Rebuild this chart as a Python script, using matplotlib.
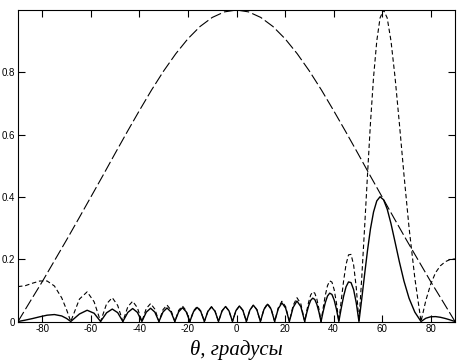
import matplotlib
matplotlib.use("Agg")
import matplotlib.pyplot as plt

# angle samples (degrees) for the array-factor (dotted) and total (solid) curves
theta_af = [
    -90, -87, -84, -81, -78, -75, -72, -70, -68.27,
    -64.69, -61.52, -58.65, -55.99,
    -53.51, -51.17, -48.94, -46.81,
    -44.75, -42.77, -40.84, -38.97,
    -37.16, -35.38, -33.64, -31.94,
    -30.27, -28.62, -27.00, -25.40,
    -23.83, -22.27, -20.73, -19.21,
    -17.70, -16.20, -14.71, -13.24,
    -11.77, -10.31, -8.86, -7.41,
    -5.97, -4.53, -3.10, -1.66,
    -0.23, 1.20, 2.64, 4.07,
    5.51, 6.95, 8.40, 9.85,
    11.30, 12.77, 14.24, 15.72,
    17.22, 18.72, 20.24, 21.78,
    23.33, 24.90, 26.49, 28.10,
    28.91, 29.74, 30.56, 31.40, 32.24, 33.09, 33.95, 34.82,
    35.70, 36.58, 37.48, 38.39, 39.31, 40.24, 41.19, 42.15,
    43.12, 44.11, 45.11, 46.14, 47.18, 48.25, 49.33, 50.44,
    51.58, 52.76, 53.96, 55.18, 56.45, 57.78, 59.13, 60.57,
    62.07, 63.64, 65.30, 67.07, 68.98, 71.08, 73.45, 76.0,
    78, 80, 82, 84, 86, 88, 90,
]

array_factor = [
    0.112, 0.115, 0.123, 0.130, 0.130, 0.114, 0.076, 0.038, 0,
    0.0720, 0.0952, 0.0633, 0,
    0.0568, 0.0764, 0.0516, 0,
    0.0476, 0.0650, 0.0444, 0,
    0.0418, 0.0576, 0.0398, 0,
    0.0381, 0.0529, 0.0367, 0,
    0.0357, 0.0498, 0.0349, 0,
    0.0343, 0.0482, 0.0339, 0,
    0.0337, 0.0476, 0.0337, 0,
    0.0339, 0.0482, 0.0343, 0,
    0.0349, 0.0498, 0.0357, 0,
    0.0367, 0.0529, 0.0381, 0,
    0.0398, 0.0576, 0.0418, 0,
    0.0444, 0.0650, 0.0476, 0,
    0.0516, 0.0764, 0.0567, 0,
    0.0333, 0.0633, 0.0852, 0.0952, 0.0910, 0.0721, 0.0404, 0,
    0.0437, 0.0842, 0.1150, 0.1304, 0.1265, 0.1019, 0.0583, 0,
    0.0658, 0.1301, 0.1828, 0.2140, 0.2154, 0.1811, 0.1088, 0,
    0.1396, 0.3008, 0.4711, 0.6373, 0.7843, 0.9004, 0.9745, 1.0,
    0.9745, 0.9004, 0.7843, 0.6373, 0.4711, 0.3008, 0.1396, 0,
    0.068, 0.120, 0.157, 0.179, 0.192, 0.199, 0.201,
]

total_pattern = [
    0, 0.0044, 0.0095, 0.0152, 0.0203, 0.0223, 0.0178, 0.0098, 0,
    0.0241, 0.0361, 0.0265, 0,
    0.0280, 0.0399, 0.0285, 0,
    0.0293, 0.0416, 0.0295, 0,
    0.0300, 0.0425, 0.0302, 0,
    0.0306, 0.0434, 0.0308, 0,
    0.0311, 0.0442, 0.0314, 0,
    0.0318, 0.0452, 0.0321, 0,
    0.0327, 0.0465, 0.0331, 0,
    0.0336, 0.0480, 0.0342, 0,
    0.0349, 0.0498, 0.0356, 0,
    0.0365, 0.0523, 0.0375, 0,
    0.0386, 0.0553, 0.0398, 0,
    0.0413, 0.0597, 0.0431, 0,
    0.0452, 0.0658, 0.0479, 0,
    0.0272, 0.0511, 0.0680, 0.0750, 0.0707, 0.0553, 0.0305, 0,
    0.0319, 0.0607, 0.0817, 0.0910, 0.0869, 0.0688, 0.0386, 0,
    0.0418, 0.0808, 0.1111, 0.1270, 0.1248, 0.1022, 0.0598, 0,
    0.0722, 0.1506, 0.2279, 0.2973, 0.3517, 0.3871, 0.4005, 0.3909,
    0.3610, 0.3140, 0.2555, 0.1922, 0.1298, 0.0744, 0.0301, 0,
    0.0105, 0.0152, 0.0157, 0.0135, 0.0097, 0.0051, 0,
]

# element pattern (dashed)
theta_el = [-90, -85, -80, -75, -70, -65, -60, -55, -50, -45, -40, -35, -30,
            -25, -20, -15, -10, -5, 0, 5, 10, 15, 20, 25, 30, 35, 40, 45,
            50, 55, 60, 65, 70, 75, 80, 85, 90]
element_pattern = [0, 0.0643, 0.128, 0.1949, 0.2618, 0.3303, 0.3996, 0.4690,
                   0.5396, 0.6092, 0.6772, 0.7430, 0.8043, 0.8597, 0.9078,
                   0.9471, 0.9761, 0.9939, 1.0, 0.9939, 0.9761, 0.9471,
                   0.9078, 0.8597, 0.8043, 0.7430, 0.6772, 0.6092, 0.5396,
                   0.4690, 0.3996, 0.3303, 0.2618, 0.1949, 0.128, 0.0643, 0]

x_ticks = [-80, -60, -40, -20, 0, 20, 40, 60, 80]
y_ticks = [0, 0.2, 0.4, 0.6, 0.8]
y_tick_labels = ["0", "0.2", "0.4", "0.6", "0.8"]
x_label = "θ, градусы"

plt.rcParams["axes.unicode_minus"] = False
plt.rcParams["font.family"] = ["Liberation Sans", "DejaVu Sans"]

fig = plt.figure(figsize=(4.66, 3.64), dpi=100)
ax = fig.add_axes([18 / 466, 1 - 321.5 / 364, 437 / 466, 311.5 / 364])

ax.plot(theta_el, element_pattern, color="black", lw=0.8,
        linestyle=(0, (10, 3)))
ax.plot(theta_af, array_factor, color="black", lw=0.8,
        linestyle=(0, (4, 2.5)))
ax.plot(theta_af, total_pattern, color="black", lw=1.0, linestyle="-")

ax.set_xlim(-90, 90)
ax.set_ylim(0, 1)
ax.set_xticks(x_ticks)
ax.set_xticklabels([str(v) for v in x_ticks])
ax.set_yticks(y_ticks)
ax.set_yticklabels(y_tick_labels)
ax.tick_params(direction="in", length=5, width=0.8, top=True, right=True,
               labelsize=7, pad=2, colors="black")
for sp in ax.spines.values():
    sp.set_linewidth(0.8)
    sp.set_color("black")

ax.set_xlabel(x_label, fontfamily=["Liberation Serif", "DejaVu Serif"],
              fontstyle="italic", fontsize=15, labelpad=4)

fig.savefig("out.png", dpi=100, facecolor="white")
